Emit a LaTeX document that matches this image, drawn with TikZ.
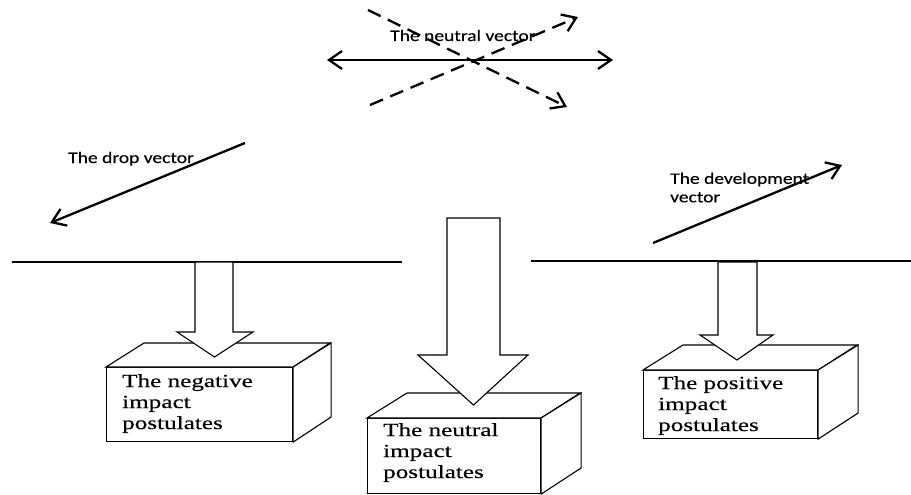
\documentclass[tikz,border=0pt]{standalone}
\usepackage{fontspec}
\setmainfont{Liberation Serif}
\newfontfamily\labelfont[FakeStretch=1.22,FakeBold=0.4]{Carlito}
\newfontfamily\boxfont[FakeStretch=1.36,FakeBold=0.4]{Liberation Serif}
\usetikzlibrary{arrows.meta}
\begin{document}
\begin{tikzpicture}[x=1pt,y=-1pt,
  vec/.style={line width=2.3pt,-{Straight Barb[length=13pt,width=18pt]}},
  dvec/.style={vec,dash pattern=on 14pt off 8pt},
  groundline/.style={line width=2.2pt},
  face/.style={draw,line width=1.1pt,fill=white,inner sep=0pt,anchor=north west},
  edge/.style={draw,line width=1.1pt,fill=white,line join=miter},
  blockarrow/.style={draw,line width=1.1pt,fill=white,line join=miter},
  veclabel/.style={inner sep=0pt,anchor=base west,font=\labelfont\fontsize{16}{18}\selectfont},
  boxtext/.style={inner sep=0pt,anchor=north west,align=left,font=\boxfont\fontsize{18.5}{21}\selectfont}]
\useasboundingbox (0,0) rectangle (911,495);

% ground lines
\coordinate (gl1) at (12,262);
\coordinate (gl2) at (402,262);
\coordinate (gr1) at (531,261);
\coordinate (gr2) at (911,261);
\draw[groundline] (gl1) -- (gl2);
\draw[groundline] (gr1) -- (gr2);

% neutral vector group
\coordinate (nl) at (327,60);
\coordinate (nr) at (613,60);
\coordinate (d1s) at (368,10);
\coordinate (d1e) at (567,107);
\coordinate (d2s) at (370,105);
\coordinate (d2e) at (578,17);
\draw[vec,{Straight Barb[length=13pt,width=18pt]}-{Straight Barb[length=13pt,width=18pt]}] (nl) -- (nr);
\draw[dvec] (d1s) -- (d1e);
\draw[dvec] (d2s) -- (d2e);
\node[veclabel] (neutrallabel) at (390,41) {The neutral vector};

% drop vector
\coordinate (dps) at (245,143);
\coordinate (dpe) at (50,223);
\draw[vec] (dps) -- (dpe);
\node[veclabel] (droplabel) at (68,163) {The drop vector};

% development vector
\coordinate (dvs) at (653,243);
\coordinate (dve) at (842,165);
\draw[vec] (dvs) -- (dve);
\node[veclabel,align=left,anchor=north west,font=\labelfont\fontsize{16}{18.5}\selectfont] (devlabel) at (670,172.5) {The development\\vector};

% left box
\node[face,minimum width=186pt,minimum height=74pt] (negbox) at (106,367) {};
\draw[edge] (negbox.north west) -- ++(38,-24) -- ++(186,0) -- (negbox.north east) -- cycle;
\draw[edge] (negbox.north east) -- ++(38,-24) -- ++(0,74) -- (negbox.south east) -- cycle;
\node[boxtext] (negtext) at ([xshift=16pt,yshift=-7pt]negbox.north west) {The negative\\impact\\postulates};

% middle box
\node[face,minimum width=173pt,minimum height=75pt] (neubox) at (367,418) {};
\draw[edge] (neubox.north west) -- ++(40,-25) -- ++(173,0) -- (neubox.north east) -- cycle;
\draw[edge] (neubox.north east) -- ++(40,-25) -- ++(0,75) -- (neubox.south east) -- cycle;
\node[boxtext] (neutext) at ([xshift=16pt,yshift=-5pt]neubox.north west) {The neutral\\impact\\postulates};

% right box
\node[face,minimum width=174pt,minimum height=68pt] (posbox) at (643,370) {};
\draw[edge] (posbox.north west) -- ++(40,-25) -- ++(174,0) -- (posbox.north east) -- cycle;
\draw[edge] (posbox.north east) -- ++(40,-25) -- ++(0,68) -- (posbox.south east) -- cycle;
\node[boxtext] (postext) at ([xshift=15pt,yshift=-6pt]posbox.north west) {The positive\\impact\\postulates};

% block arrows
\draw[blockarrow] (195,262) -- (195,332) -- (177,332) -- (214.5,357) -- (253,332) -- (233,332) -- (233,262) -- cycle;
\draw[blockarrow] (447,218) -- (447,355) -- (418,355) -- (473.5,405) -- (528,355) -- (500,355) -- (500,218) -- cycle;
\draw[blockarrow] (718,262) -- (718,335) -- (700,335) -- (737,360) -- (773,335) -- (757,335) -- (757,262) -- cycle;
\end{tikzpicture}
\end{document}
